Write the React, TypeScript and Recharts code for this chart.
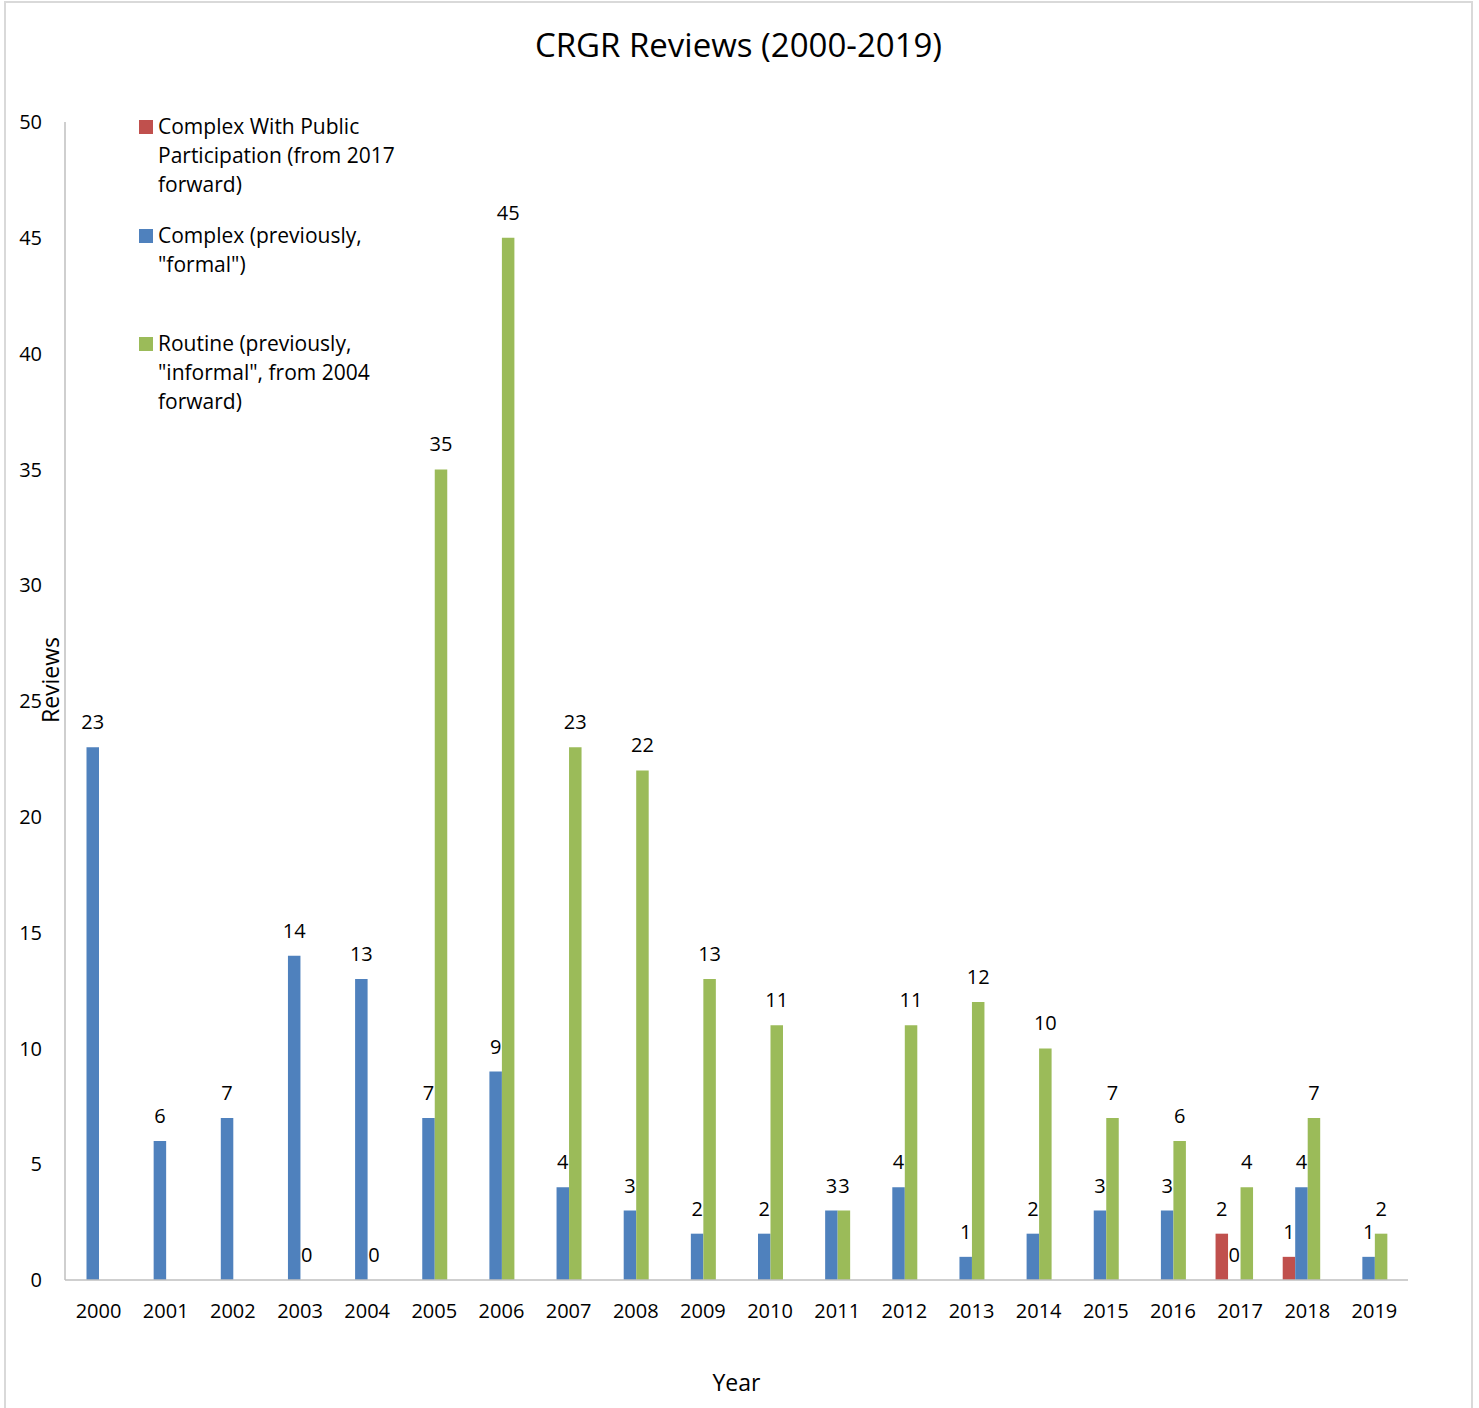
import React from "react";
import {
  BarChart,
  Bar,
  XAxis,
  YAxis,
  LabelList,
  Legend,
} from "recharts";

const years = [
  "2000", "2001", "2002", "2003", "2004", "2005", "2006", "2007", "2008", "2009",
  "2010", "2011", "2012", "2013", "2014", "2015", "2016", "2017", "2018", "2019",
];

// null = no bar / no label for that year
const complexPublic = [
  null, null, null, null, null, null, null, null, null, null,
  null, null, null, null, null, null, null, 2, 1, null,
];
const complex = [23, 6, 7, 14, 13, 7, 9, 4, 3, 2, 2, 3, 4, 1, 2, 3, 3, 0, 4, 1];
const routine = [
  null, null, null, 0, 0, 35, 45, 23, 22, 13,
  11, 3, 11, 12, 10, 7, 6, 4, 7, 2,
];

const yTicks = [0, 5, 10, 15, 20, 25, 30, 35, 40, 45, 50];

const seriesNames = {
  complexPublic: "Complex With Public\nParticipation (from 2017\nforward)",
  complex: 'Complex (previously,\n"formal")',
  routine: 'Routine (previously,\n"informal", from 2004\nforward)',
};

const data = years.map((year, i) => ({
  year,
  complexPublic: complexPublic[i],
  complex: complex[i],
  routine: routine[i],
}));

const FONT = "'Open Sans', sans-serif";
const RED = "#C0504D";
const BLUE = "#4F81BD";
const GREEN = "#9BBB59";
const AXIS = "#BFBFBF";

const legendOrder = [
  { key: "complexPublic", color: RED },
  { key: "complex", color: BLUE },
  { key: "routine", color: GREEN },
];

const LegendBox = () => (
  <div style={{ fontFamily: FONT, fontSize: 21, color: "#000" }}>
    {legendOrder.map((item) => (
      <div key={item.key} style={{ position: "relative", height: 108.5 }}>
        <div
          style={{
            position: "absolute",
            left: 0,
            top: 8,
            width: 14,
            height: 14,
            background: item.color,
          }}
        />
        <div style={{ marginLeft: 19, lineHeight: "29px", whiteSpace: "pre" }}>
          {seriesNames[item.key as keyof typeof seriesNames]}
        </div>
      </div>
    ))}
  </div>
);

// a zero still gets a (hair-thin) bar so its "0" label is drawn, as in the original
const zeroSize = (v: any) => (v === 0 ? 0.01 : 0);

export default function App() {
  return (
    <div
      style={{
        position: "absolute",
        left: 0,
        top: 0,
        width: 1479,
        height: 1408,
        overflow: "hidden",
        background: "#fff",
      }}
    >
      <div
        style={{
          position: "absolute",
          left: 4,
          top: 1,
          width: 1469,
          height: 1430,
          border: "2px solid #D9D9D9",
          boxSizing: "border-box",
        }}
      />
      <div
        style={{
          position: "absolute",
          left: 0,
          top: 28,
          width: 1477,
          textAlign: "center",
          fontFamily: FONT,
          fontSize: 33,
          lineHeight: "33px",
          color: "#000",
        }}
      >
        CRGR Reviews (2000-2019)
      </div>
      <BarChart
        width={1479}
        height={1408}
        data={data}
        margin={{ top: 122, right: 71, bottom: 68, left: 0 }}
        barGap={0}
        barSize={12.5}
        style={{ position: "absolute", left: 0, top: 0 }}
      >
        <XAxis
          dataKey="year"
          height={60}
          stroke={AXIS}
          strokeWidth={1.5}
          tickLine={false}
          tickSize={0}
          tickMargin={24}
          tick={{ fill: "#000", fontSize: 20, fontFamily: FONT }}
          interval={0}
          label={{
            content: ({ viewBox }: any) => (
              <text
                x={viewBox.x + viewBox.width / 2}
                y={viewBox.y + 111}
                textAnchor="middle"
                fontSize={23}
                fontFamily={FONT}
                fill="#000"
              >
                Year
              </text>
            ),
          }}
        />
        <YAxis
          width={65}
          domain={[0, 50]}
          ticks={yTicks}
          interval={0}
          stroke={AXIS}
          strokeWidth={1.5}
          tickLine={false}
          tickSize={0}
          tickMargin={23}
          tick={{ fill: "#000", fontSize: 20, fontFamily: FONT }}
          label={{
            content: () => (
              <text
                x={59}
                y={680}
                transform="rotate(-90, 59, 680)"
                textAnchor="middle"
                fontSize={23}
                fontFamily={FONT}
                fill="#000"
              >
                Reviews
              </text>
            ),
          }}
        />
        <Legend
          layout="vertical"
          align="center"
          verticalAlign="middle"
          wrapperStyle={{ top: 112, left: 139, width: 320 }}
          content={<LegendBox />}
        />
        <Bar dataKey="complexPublic" name="Complex With Public Participation (from 2017 forward)" fill={RED} minPointSize={zeroSize} isAnimationActive={false}>
          <LabelList dataKey="complexPublic" position="top" offset={18} fill="#000" fontSize={20} fontFamily={FONT} />
        </Bar>
        <Bar dataKey="complex" name='Complex (previously, "formal")' fill={BLUE} minPointSize={zeroSize} isAnimationActive={false}>
          <LabelList dataKey="complex" position="top" offset={18} fill="#000" fontSize={20} fontFamily={FONT} />
        </Bar>
        <Bar dataKey="routine" name='Routine (previously, "informal", from 2004 forward)' fill={GREEN} minPointSize={zeroSize} isAnimationActive={false}>
          <LabelList dataKey="routine" position="top" offset={18} fill="#000" fontSize={20} fontFamily={FONT} />
        </Bar>
        {/* empty slot: the original cluster reserves room for a fourth series */}
        <Bar dataKey="spacer" legendType="none" fill="none" isAnimationActive={false} />
      </BarChart>
    </div>
  );
}
